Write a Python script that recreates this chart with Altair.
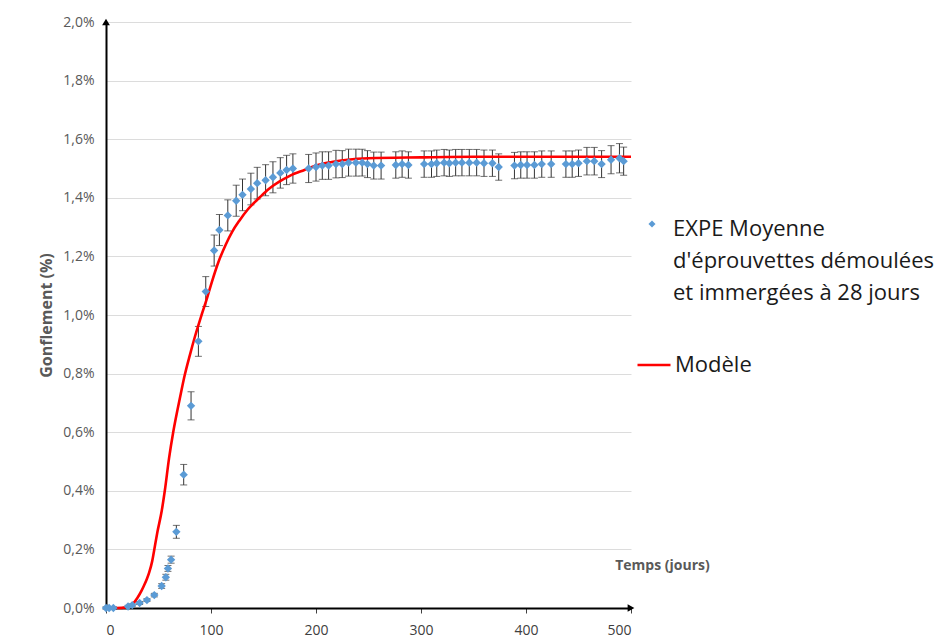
import altair as alt
import pandas as pd

# ---- experimental data (days, mean swelling %, half error bar %) ----
days = [0, 3, 7, 21, 25, 32, 39, 46, 53, 57, 59, 62, 67, 74, 81, 88, 95,
        103, 108, 116, 124, 130, 138, 144, 152, 159, 166, 172, 178, 193, 200,
        206, 212, 219, 225, 231, 238, 244, 249, 255, 262, 276, 282, 288, 303,
        310, 315, 322, 327, 333, 339, 346, 353, 360, 368, 374, 389, 395, 401,
        408, 415, 424, 438, 444, 450, 458, 465, 472, 481, 489, 493]
mean = [0.0, 0.0, 0.0, 0.005, 0.01, 0.017, 0.027, 0.044, 0.075, 0.105, 0.135,
        0.165, 0.26, 0.455, 0.69, 0.91, 1.08,
        1.22, 1.29, 1.34, 1.39, 1.41, 1.43, 1.45, 1.46, 1.47, 1.485, 1.495,
        1.50, 1.50, 1.505,
        1.51, 1.51, 1.515, 1.515, 1.52, 1.52, 1.52, 1.515, 1.51, 1.51, 1.512,
        1.515, 1.512, 1.515,
        1.515, 1.518, 1.52, 1.518, 1.52, 1.52, 1.52, 1.52, 1.518, 1.518, 1.505,
        1.51, 1.512, 1.512,
        1.512, 1.515, 1.515, 1.515, 1.515, 1.518, 1.525, 1.525, 1.515, 1.53,
        1.535, 1.525]
err = [0.004, 0.004, 0.004, 0.004, 0.004, 0.005, 0.005, 0.006, 0.008, 0.01,
       0.01, 0.012, 0.022, 0.035, 0.048, 0.051, 0.051,
       0.053, 0.053, 0.053, 0.053, 0.054, 0.054, 0.054, 0.053, 0.053, 0.052,
       0.05, 0.05, 0.048, 0.048,
       0.047, 0.047, 0.047, 0.046, 0.046, 0.046, 0.046, 0.046, 0.046, 0.046,
       0.045, 0.045, 0.045, 0.045,
       0.045, 0.045, 0.045, 0.045, 0.045, 0.045, 0.045, 0.045, 0.045, 0.045,
       0.045, 0.045, 0.045, 0.045,
       0.045, 0.045, 0.045, 0.045, 0.045, 0.045, 0.047, 0.047, 0.046, 0.048,
       0.05, 0.048]

# ---- model curve ----
model_days = [0, 10, 20, 25, 30, 34, 36, 39, 41, 44, 46, 49, 53, 56, 60, 64,
              68, 72, 75, 80, 85, 91, 96, 101, 107, 114, 120, 127, 135, 146,
              155, 165, 175, 189, 200, 215, 230, 250, 300, 350, 400, 450, 500]
model_vals = [0.0, 0.0, 0.003, 0.012, 0.035, 0.06, 0.075, 0.10, 0.12, 0.16,
              0.20, 0.26, 0.33, 0.40, 0.51, 0.60, 0.675, 0.745, 0.795, 0.865,
              0.93, 1.0, 1.055, 1.115, 1.18, 1.24, 1.283, 1.322, 1.36, 1.40,
              1.43, 1.455, 1.475, 1.495, 1.51, 1.522, 1.53, 1.535, 1.538,
              1.54, 1.54, 1.54, 1.54]

x_ticks = [0, 100, 200, 300, 400, 500]
y_ticks = [0.0, 0.2, 0.4, 0.6, 0.8, 1.0, 1.2, 1.4, 1.6, 1.8, 2.0]
x_domain = [0, 500]
y_domain = [0.0, 2.0]

expe_key = "EXPE"
expe_text = ["EXPE Moyenne", "d'éprouvettes démoulées", "et immergées à 28 jours"]
model_label = "Modèle"
x_title = "Temps (jours)"
y_title = "Gonflement (%)"

exp_df = pd.DataFrame({
    "t": days,
    "g": mean,
    "lo": [m - e for m, e in zip(mean, err)],
    "hi": [m + e for m, e in zip(mean, err)],
    "serie": [expe_key] * len(days),
})
mod_df = pd.DataFrame({"t": model_days, "g": model_vals,
                       "serie": [model_label] * len(model_days)})
arrow_up = pd.DataFrame({"t": [x_domain[0]], "g": [y_domain[1]]})
arrow_right = pd.DataFrame({"t": [x_domain[1]], "g": [y_domain[0]]})

FONT = "Open Sans"
xs = alt.Scale(domain=x_domain, nice=False, zero=False)
ys = alt.Scale(domain=y_domain, nice=False)

x_axis = alt.Axis(values=x_ticks, title=x_title, grid=False,
                  domainColor="black", domainWidth=2,
                  tickColor="#404040", tickSize=5, tickWidth=1,
                  labelPadding=10, labelFontSize=14, labelColor="#404040",
                  labelFont=FONT,
                  titleFont=FONT, titleFontWeight="bold", titleFontSize=14,
                  titleColor="#595959", titleX=556, titleY=-43,
                  titleAlign="center", titleBaseline="middle")
y_axis = alt.Axis(values=y_ticks, title=y_title, grid=True,
                  gridColor="#dcdcdc", gridWidth=1,
                  domainColor="black", domainWidth=2, ticks=False,
                  labelPadding=12, labelFontSize=14, labelColor="#595959",
                  labelFont=FONT,
                  labelExpr="replace(format(datum.value, '.1f'), '.', ',') + '%'",
                  titleFont=FONT, titleFontWeight="bold", titleFontSize=16,
                  titleColor="#595959", titlePadding=8)

X = alt.X("t:Q", scale=xs, axis=x_axis)
Y = alt.Y("g:Q", scale=ys, axis=y_axis)

base = alt.Chart(exp_df)
rules = base.mark_rule(color="#333333", strokeWidth=1).encode(
    x=alt.X("t:Q", scale=xs), y=alt.Y("lo:Q", scale=ys), y2="hi:Q")
caps_lo = base.mark_tick(color="#333333", orient="horizontal", size=7,
                         thickness=1).encode(x=alt.X("t:Q", scale=xs),
                                             y=alt.Y("lo:Q", scale=ys))
caps_hi = base.mark_tick(color="#333333", orient="horizontal", size=7,
                         thickness=1).encode(x=alt.X("t:Q", scale=xs),
                                             y=alt.Y("hi:Q", scale=ys))

line = alt.Chart(mod_df).mark_line(strokeWidth=2.6, interpolate="monotone").encode(
    x=X, y=Y,
    color=alt.Color("serie:N",
                    scale=alt.Scale(domain=[model_label], range=["#FF0000"]),
                    legend=alt.Legend(orient="none", legendX=530, legendY=325,
                                      title=None, symbolType="stroke",
                                      symbolSize=1089, symbolStrokeWidth=2.6,
                                      labelOffset=3, labelFontSize=22,
                                      labelFont=FONT, labelColor="#1a1a1a",
                                      labelLimit=400, padding=0)),
)

points = base.mark_point(filled=True, size=70, opacity=1,
                         color="#5B9BD5").encode(
    x=X, y=Y,
    shape=alt.Shape("serie:N",
                    scale=alt.Scale(domain=[expe_key], range=["diamond"]),
                    legend=alt.Legend(orient="none", legendX=541, legendY=197,
                                      title=expe_text, titleOrient="right",
                                      titleAnchor="start", titleAlign="left",
                                      titleBaseline="top",
                                      titleFont=FONT, titleFontSize=22,
                                      titleFontWeight="normal",
                                      titleColor="#1a1a1a", titleLineHeight=32,
                                      titleLimit=400, titlePadding=14,
                                      symbolSize=50,
                                      symbolFillColor="#5B9BD5",
                                      symbolStrokeColor="#5B9BD5",
                                      symbolOffset=0,
                                      labelExpr="''", labelOffset=0,
                                      padding=0)),
)

arrow1 = alt.Chart(arrow_up).mark_point(shape="triangle-up", filled=True,
                                        color="black", size=60, opacity=1).encode(
    x=alt.X("t:Q", scale=xs), y=alt.Y("g:Q", scale=ys))
arrow2 = alt.Chart(arrow_right).mark_point(shape="triangle-right", filled=True,
                                           color="black", size=60, opacity=1).encode(
    x=alt.X("t:Q", scale=xs), y=alt.Y("g:Q", scale=ys))

chart = alt.layer(rules, caps_lo, caps_hi, line, points, arrow1, arrow2).properties(
    width=525, height=586,
    padding={"left": 30, "top": 7, "right": 0, "bottom": 5},
    background="white",
).configure_view(stroke=None)

chart.save("out.html", embed_options={"renderer": "svg", "actions": False})
